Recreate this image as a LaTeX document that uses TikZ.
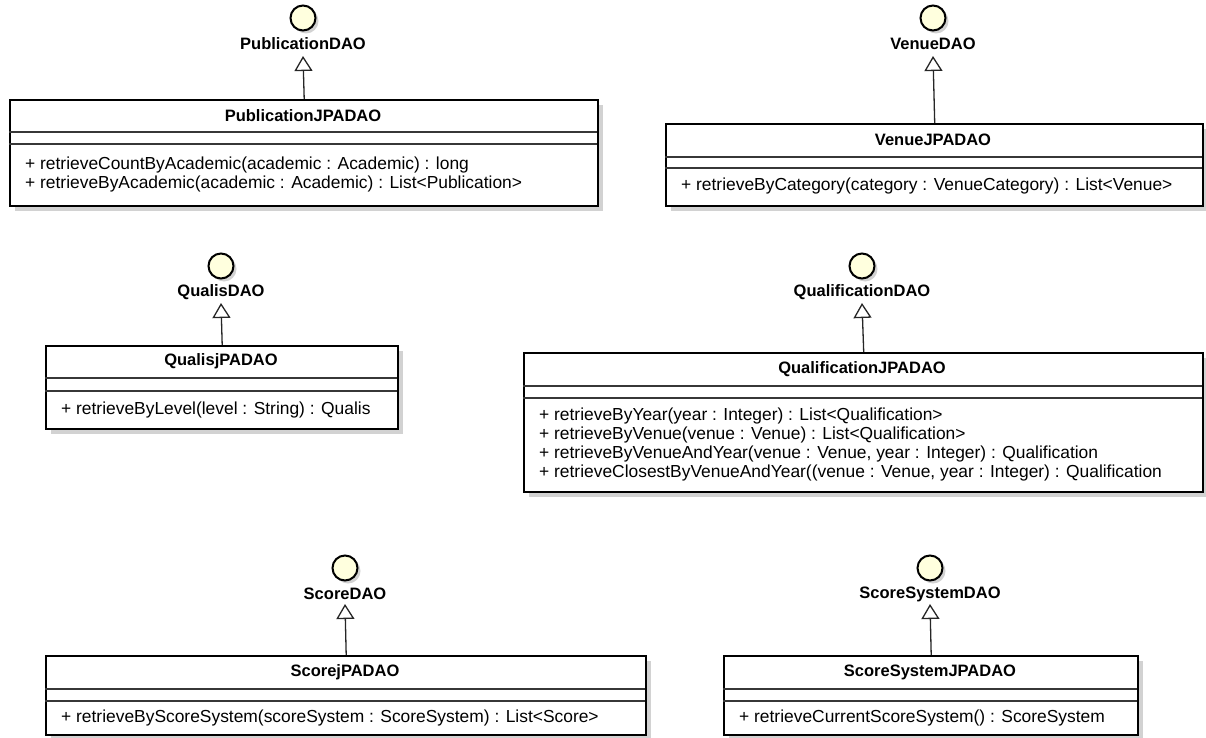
\documentclass[tikz,border=0pt]{standalone}
\usepackage{fontspec}
\setmainfont{Liberation Sans}
\usetikzlibrary{arrows.meta,shadows}

\definecolor{ifill}{RGB}{255,255,222}
\definecolor{shade}{RGB}{210,210,210}
\definecolor{compgray}{RGB}{55,55,55}

\tikzset{
  classbox/.style={draw=black, line width=2.4pt, fill=white, anchor=north west,
    inner sep=0pt,
    drop shadow={shadow xshift=5pt, shadow yshift=-5pt, fill=shade, opacity=1}},
  ctitle/.style={font=\fontsize{16.5}{18}\selectfont\bfseries, inner sep=0pt},
  cops/.style={font=\fontsize{17.4}{18.7}\selectfont, align=left, anchor=west,
    inner sep=0pt},
  compline/.style={draw=compgray, line width=1.4pt},
  iface/.style={circle, draw=black, line width=2pt, fill=ifill,
    minimum size=25pt, inner sep=0pt,
    drop shadow={shadow xshift=3pt, shadow yshift=-3pt, fill=shade, opacity=1}},
  ilabel/.style={font=\fontsize{16.5}{18}\selectfont\bfseries, inner sep=0pt},
  realize/.style={draw=black!85, line width=1.3pt,
    -{Triangle[open, width=18pt, length=15pt, line width=1.3pt]}},
}

% class box: name, left, top, right, first separator, second separator, bottom
\newcommand\umlbox[7]{%
  \node[classbox, minimum width={(#4)-(#2)}, minimum height={(#7)-(#3)}] (#1) at (#2,#3) {};
  \draw[compline] (#2,#5) -- (#4,#5);
  \draw[compline] (#2,#6) -- (#4,#6);
}

\begin{document}
\begin{tikzpicture}[x=1pt, y=-1pt]
\useasboundingbox (0,0) rectangle (1206,738);

% ---------- PublicationDAO ----------
\node[iface] (pubI) at (303,18) {};
\node[ilabel] (pubL) at (303,44) {PublicationDAO};
\coordinate (pubTip) at (303,56);
\umlbox{pub}{9}{99}{597}{132}{144}{205}
\node[ctitle] (pubN) at (303,116) {PublicationJPADAO};
\node[cops] (pubM) at (25,174.5) {+ retrieveCountByAcademic(academic : Academic) : long\\
+ retrieveByAcademic(academic : Academic) : List<Publication>};
\draw[realize] (pub.north) -- (pubTip);

% ---------- VenueDAO ----------
\node[iface] (venI) at (933,18) {};
\node[ilabel] (venL) at (933,44) {VenueDAO};
\coordinate (venTip) at (933,56);
\umlbox{ven}{665}{123}{1202}{157}{168}{205}
\node[ctitle] (venN) at (933,140) {VenueJPADAO};
\node[cops] (venM) at (681,186.5) {+ retrieveByCategory(category : VenueCategory) : List<Venue>};
\draw[realize] (ven.north) -- (venTip);

% ---------- QualisDAO ----------
\node[iface] (quaI) at (221,266) {};
\node[ilabel] (quaL) at (221,292) {QualisDAO};
\coordinate (quaTip) at (221,303);
\umlbox{qua}{45}{345}{397}{378}{391}{428}
\node[ctitle] (quaN) at (221,361.5) {QualisjPADAO};
\node[cops] (quaM) at (61,409.5) {+ retrieveByLevel(level : String) : Qualis};
\draw[realize] (qua.north) -- (quaTip);

% ---------- QualificationDAO ----------
\node[iface] (qlfI) at (862,266) {};
\node[ilabel] (qlfL) at (862,292) {QualificationDAO};
\coordinate (qlfTip) at (862,303);
\umlbox{qlf}{523}{352}{1202}{386}{398}{491}
\node[ctitle] (qlfN) at (862,369) {QualificationJPADAO};
\node[cops] (qlfM) at (539,444.5) {+ retrieveByYear(year : Integer) : List<Qualification>\\
+ retrieveByVenue(venue : Venue) : List<Qualification>\\
+ retrieveByVenueAndYear(venue : Venue, year : Integer) : Qualification\\
+ retrieveClosestByVenueAndYear((venue : Venue, year : Integer) : Qualification};
\draw[realize] (qlf.north) -- (qlfTip);

% ---------- ScoreDAO ----------
\node[iface] (scoI) at (345,568) {};
\node[ilabel] (scoL) at (345,594) {ScoreDAO};
\coordinate (scoTip) at (345,604);
\umlbox{sco}{45}{655}{645}{689}{701}{734}
\node[ctitle] (scoN) at (345,672) {ScorejPADAO};
\node[cops] (scoM) at (61,717.5) {+ retrieveByScoreSystem(scoreSystem : ScoreSystem) : List<Score>};
\draw[realize] (sco.north) -- (scoTip);

% ---------- ScoreSystemDAO ----------
\node[iface] (ssyI) at (930,568) {};
\node[ilabel] (ssyL) at (930,594) {ScoreSystemDAO};
\coordinate (ssyTip) at (930,604);
\umlbox{ssy}{723}{655}{1137}{689}{701}{734}
\node[ctitle] (ssyN) at (930,672) {ScoreSystemJPADAO};
\node[cops] (ssyM) at (739,717.5) {+ retrieveCurrentScoreSystem() : ScoreSystem};
\draw[realize] (ssy.north) -- (ssyTip);
\end{tikzpicture}
\end{document}
